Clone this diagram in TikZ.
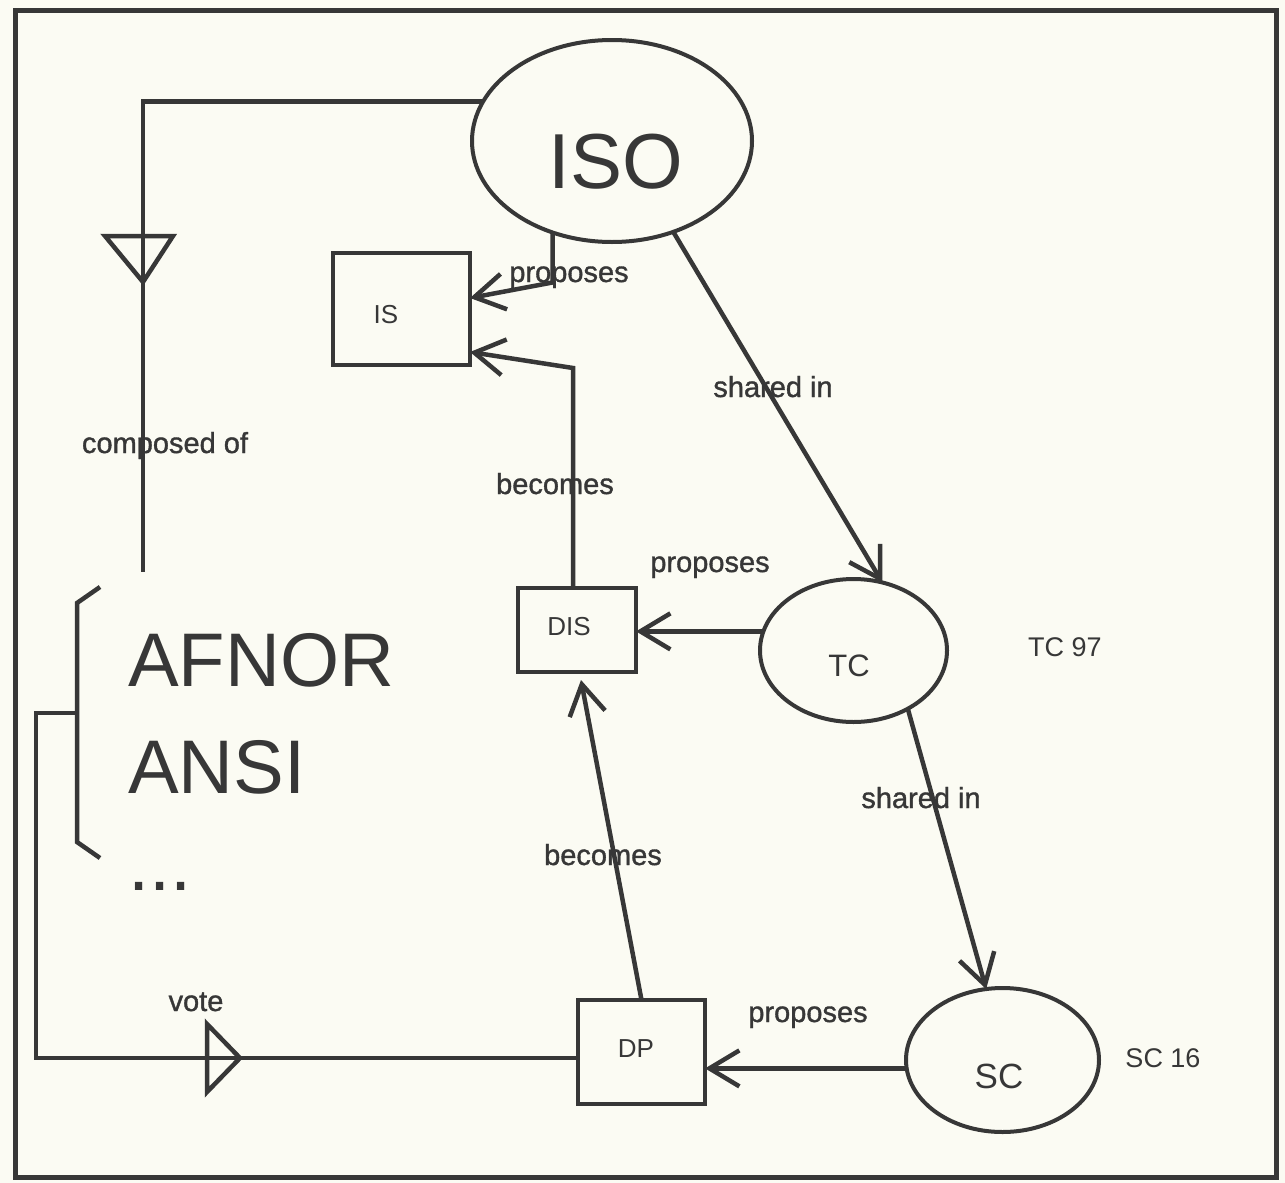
\documentclass[tikz,border=0pt]{standalone}
\usepackage{fontspec}
\setmainfont{Liberation Sans}
\newfontfamily\lblfont[FakeBold=1.2]{Liberation Sans}
\usetikzlibrary{shapes.geometric,arrows.meta,calc}
\definecolor{ink}{RGB}{55,55,55}
\definecolor{paper}{RGB}{251,251,243}
\begin{document}
\begin{tikzpicture}[x=1pt,y=-1pt,
  ln/.style={draw=ink, line width=4.5pt},
  arr/.style={ln, -{Straight Barb[length=30pt,width=36pt]}},
  oval/.style={ellipse, draw=ink, line width=4pt, inner sep=0pt, outer sep=0pt},
  boxn/.style={rectangle, draw=ink, line width=4.5pt, inner sep=0pt, outer sep=0pt},
  lbl/.style={text=ink, anchor=base, inner sep=0pt, font=\lblfont\fontsize{29}{34}\selectfont},
  tag/.style={text=ink, anchor=base, inner sep=0pt, font=\fontsize{27}{32}\selectfont},
  boxtxt/.style={text=ink, anchor=base, inner sep=0pt, font=\fontsize{26}{30}\selectfont},
  big/.style={text=ink, anchor=base west, inner sep=0pt, font=\fontsize{76}{90}\selectfont}]
\fill[paper] (0,0) rectangle (1285,1183);
\useasboundingbox (0,0) rectangle (1285,1183);
\draw[ink, line width=5pt] (15,10) rectangle (1276,1177);

% main nodes
\node[oval, minimum width=280pt, minimum height=202pt] (ISO) at (612,141) {};
\node[oval, minimum width=187pt, minimum height=143pt] (TC) at (853.5,650.5) {};
\node[oval, minimum width=193pt, minimum height=144pt] (SC) at (1002.5,1060) {};
\node[boxn, minimum width=137pt, minimum height=112pt] (IS) at (401.5,309) {};
\node[boxn, minimum width=118pt, minimum height=84pt] (DIS) at (577,630) {};
\node[boxn, minimum width=127pt, minimum height=104pt] (DP) at (641.5,1052) {};

% node texts
\node[text=ink, anchor=base, inner sep=0pt, font=\fontsize{78}{90}\selectfont] (ISOt) at (616,188) {ISO};
\node[text=ink, anchor=base, inner sep=0pt, font=\fontsize{31}{36}\selectfont] (TCt) at (849,676) {TC};
\node[text=ink, anchor=base, inner sep=0pt, font=\fontsize{35}{40}\selectfont] (SCt) at (999,1088) {SC};
\node[boxtxt] (ISt) at (386,323) {IS};
\node[boxtxt] (DISt) at (569,635) {DIS};
\node[boxtxt] (DPt) at (636,1057) {DP};

% member list
\node[big] (afnor) at (128,686) {AFNOR};
\node[big] (ansi) at (128,793) {ANSI};
\node[big] (dots) at (128,890) {...};

% bracket
\draw[ln] (100,587) -- (77,603) -- (77,842) -- (100,858);
\coordinate (brk) at (77,713);
\coordinate (cEnd) at (143,572);

% composed of
\draw[ln] (ISO.163) -| (cEnd);
\draw[ln, line join=miter] (105,236) -- (173,236) -- (143,282) -- cycle;

% vote
\draw[ln] (brk) -- (36,713) |- ([yshift=-6pt]DP.west);
\draw[ln, line join=miter] (207,1024) -- (240,1058) -- (207,1092) -- cycle;

% arrows
\draw[arr] (ISO.237) -- ++(0,50) -- ([yshift=11pt]IS.east);
\draw[arr] ([xshift=-4pt]DIS.north) -- ++(0,-220) -- ([yshift=-43pt]IS.east);
\draw[arr] (ISO.304) -- (TC.67);
\draw[arr] (TC.168) -- (TC.168 -| DIS.east);
\draw[arr] (TC.313) -- (SC.103);
\draw[arr] (SC.185) -- (SC.185 -| DP.east);
\draw[arr] (DP.north) -- ([xshift=4pt,yshift=-8pt]DIS.south);

% labels
\node[lbl] (l1) at (569,282) {proposes};
\node[lbl] (l2) at (773,397) {shared in};
\node[lbl] (l3) at (165,453) {composed of};
\node[lbl] (l4) at (555,494) {becomes};
\node[lbl] (l5) at (710,572) {proposes};
\node[tag] (l6) at (1065,656) {TC 97};
\node[lbl] (l7) at (921,808) {shared in};
\node[lbl] (l8) at (603,865) {becomes};
\node[lbl] (l9) at (196,1011) {vote};
\node[lbl] (l10) at (808,1022) {proposes};
\node[tag] (l11) at (1163,1067) {SC 16};
\end{tikzpicture}
\end{document}
